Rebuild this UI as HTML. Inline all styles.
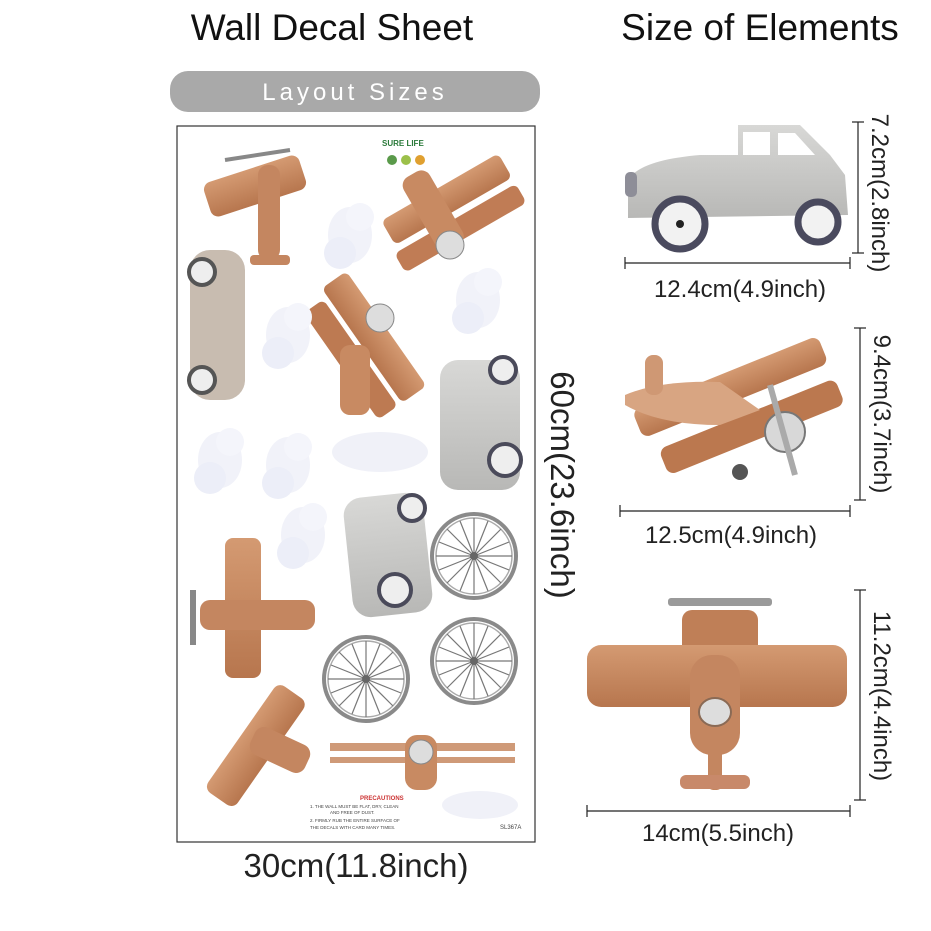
<!DOCTYPE html>
<html><head><meta charset="utf-8"><style>
html,body{margin:0;padding:0;background:#fff}
svg{display:block}
text{font-family:"Liberation Sans",sans-serif}
</style></head><body>
<svg width="931" height="931" viewBox="0 0 931 931" xmlns="http://www.w3.org/2000/svg">
<defs>
<linearGradient id="br" x1="0" y1="0" x2="0" y2="1"><stop offset="0" stop-color="#d49a72"/><stop offset="1" stop-color="#b7764e"/></linearGradient>
<linearGradient id="gr" x1="0" y1="0" x2="0" y2="1"><stop offset="0" stop-color="#d8d8d6"/><stop offset="1" stop-color="#b8b8b6"/></linearGradient>
<g id="cloud"><ellipse cx="0" cy="0" rx="22" ry="28" fill="#f1f2f9"/><ellipse cx="-10" cy="18" rx="16" ry="16" fill="#eceef8"/><ellipse cx="10" cy="-18" rx="14" ry="14" fill="#f4f5fb"/></g>
<g id="wheel"><circle r="42" fill="none" stroke="#8a8a8a" stroke-width="4"/><circle r="38" fill="none" stroke="#aaa" stroke-width="1.5"/>
<g stroke="#777" stroke-width="1.2"><line x1="-38" y1="0" x2="38" y2="0"/><line x1="0" y1="-38" x2="0" y2="38"/><line x1="-27" y1="-27" x2="27" y2="27"/><line x1="-27" y1="27" x2="27" y2="-27"/><line x1="-35" y1="-14" x2="35" y2="14"/><line x1="-35" y1="14" x2="35" y2="-14"/><line x1="-14" y1="-35" x2="14" y2="35"/><line x1="14" y1="-35" x2="-14" y2="35"/></g><circle r="4" fill="#666"/></g>
</defs>

<text x="332" y="40" font-size="37" text-anchor="middle" fill="#111">Wall Decal Sheet</text>
<text x="760" y="40" font-size="37" text-anchor="middle" fill="#111">Size of Elements</text>

<rect x="170" y="71" width="370" height="41" rx="18" fill="#a9a9a9"/>
<text x="355" y="100" font-size="24" text-anchor="middle" fill="#fff" letter-spacing="4">Layout Sizes</text>

<rect x="177" y="126" width="358" height="716" fill="#fff" stroke="#333" stroke-width="1.2"/>
<text x="382" y="146" font-size="8" fill="#2a7a3a" font-weight="bold">SURE LIFE</text>
<circle cx="392" cy="160" r="5" fill="#5a9a4a"/><circle cx="406" cy="160" r="5" fill="#9cc04a"/><circle cx="420" cy="160" r="5" fill="#e0a030"/>

<g>
<rect x="205" y="168" width="100" height="36" rx="8" fill="url(#br)" transform="rotate(-18 255 186)"/>
<rect x="258" y="165" width="22" height="95" rx="10" fill="#c48660"/>
<rect x="250" y="255" width="40" height="10" rx="4" fill="#c48660"/>
<line x1="225" y1="160" x2="290" y2="150" stroke="#888" stroke-width="4"/>
</g>
<g transform="rotate(-30 450 210)">
<rect x="385" y="185" width="135" height="28" rx="6" fill="url(#br)"/>
<rect x="380" y="220" width="140" height="22" rx="6" fill="#c07c55"/>
<rect x="420" y="160" width="30" height="85" rx="10" fill="#c88a62"/>
</g>
<circle cx="450" cy="245" r="14" fill="#ddd" stroke="#888"/>
<g transform="rotate(55 370 340)">
<rect x="300" y="320" width="140" height="30" rx="6" fill="url(#br)"/>
<rect x="310" y="355" width="130" height="24" rx="6" fill="#bd7a52"/>
</g>
<circle cx="380" cy="318" r="14" fill="#ddd" stroke="#888"/>
<rect x="340" y="345" width="30" height="70" rx="10" fill="#c88a62"/>
<rect x="190" y="250" width="55" height="150" rx="20" fill="#c8bcb0"/>
<circle cx="202" cy="272" r="13" fill="#eee" stroke="#555" stroke-width="4"/>
<circle cx="202" cy="380" r="13" fill="#eee" stroke="#555" stroke-width="4"/>
<use href="#cloud" x="350" y="235"/>
<use href="#cloud" x="288" y="335"/>
<use href="#cloud" x="478" y="300"/>
<use href="#cloud" x="220" y="460"/>
<use href="#cloud" x="288" y="465"/>
<use href="#cloud" x="303" y="535"/>
<ellipse cx="380" cy="452" rx="48" ry="20" fill="#f0f1f8"/>
<ellipse cx="480" cy="805" rx="38" ry="14" fill="#f0f1f8"/>
<rect x="440" y="360" width="80" height="130" rx="18" fill="url(#gr)"/>
<circle cx="503" cy="370" r="13" fill="#eee" stroke="#4a4a5a" stroke-width="4"/>
<circle cx="505" cy="460" r="16" fill="#eee" stroke="#4a4a5a" stroke-width="4"/>
<rect x="348" y="495" width="80" height="120" rx="18" fill="url(#gr)" transform="rotate(-6 388 555)"/>
<circle cx="412" cy="508" r="13" fill="#eee" stroke="#4a4a5a" stroke-width="4"/>
<circle cx="395" cy="590" r="16" fill="#eee" stroke="#4a4a5a" stroke-width="4"/>
<use href="#wheel" x="474" y="556"/>
<use href="#wheel" x="366" y="679"/>
<use href="#wheel" x="474" y="661"/>
<rect x="225" y="538" width="36" height="140" rx="8" fill="url(#br)"/>
<rect x="200" y="600" width="115" height="30" rx="10" fill="#c48660"/>
<rect x="190" y="590" width="6" height="55" fill="#888"/>
<g transform="rotate(-55 255 745)"><rect x="190" y="728" width="130" height="36" rx="8" fill="url(#br)"/></g>
<rect x="250" y="735" width="60" height="30" rx="10" fill="#c48660" transform="rotate(25 280 750)"/>
<rect x="330" y="743" width="185" height="8" fill="#cf9a78"/>
<rect x="330" y="757" width="185" height="6" fill="#cf9a78"/>
<rect x="405" y="735" width="32" height="55" rx="12" fill="#c88a62"/>
<circle cx="421" cy="752" r="12" fill="#ddd" stroke="#888"/>
<text x="360" y="800" font-size="6" fill="#c33" font-weight="bold">PRECAUTIONS</text>
<text x="310" y="808" font-size="4.5" fill="#444">1. THE WALL MUST BE FLAT, DRY, CLEAN</text>
<text x="330" y="814" font-size="4.5" fill="#444">AND FREE OF DUST.</text>
<text x="310" y="822" font-size="4.5" fill="#444">2. FIRMLY RUB THE ENTIRE SURFACE OF</text>
<text x="310" y="829" font-size="4.5" fill="#444">THE DECALS WITH CARD MANY TIMES.</text>
<text x="500" y="829" font-size="6" fill="#444">SL367A</text>

<text x="356" y="877" font-size="33" text-anchor="middle" fill="#222">30cm(11.8inch)</text>
<text transform="translate(551 485) rotate(90)" font-size="33" text-anchor="middle" fill="#222">60cm(23.6inch)</text>

<path d="M628 180 Q640 160 700 155 L738 155 L738 125 L800 125 L830 155 L845 175 L848 215 L628 218 Z" fill="url(#gr)"/>
<path d="M743 132 L770 132 L770 155 L743 155 Z M778 133 L795 133 L815 155 L778 155 Z" fill="#fff"/>
<rect x="625" y="172" width="12" height="25" rx="5" fill="#8e8e98"/>
<circle cx="680" cy="224" r="25" fill="#f2f2f2" stroke="#4a4a5e" stroke-width="7"/>
<circle cx="680" cy="224" r="4" fill="#222"/>
<circle cx="818" cy="222" r="20" fill="#f2f2f2" stroke="#4a4a5e" stroke-width="7"/>
<g stroke="#222" stroke-width="1.2" fill="none"><line x1="625" y1="263" x2="850" y2="263"/><line x1="625" y1="257" x2="625" y2="269"/><line x1="850" y1="257" x2="850" y2="269"/>
<line x1="858" y1="122" x2="858" y2="253"/><line x1="852" y1="122" x2="864" y2="122"/><line x1="852" y1="253" x2="864" y2="253"/></g>
<text x="740" y="297" font-size="24" text-anchor="middle" fill="#222">12.4cm(4.9inch)</text>
<text transform="translate(872 193) rotate(90)" font-size="24" text-anchor="middle" fill="#222">7.2cm(2.8inch)</text>

<g transform="rotate(-22 735 412)">
<rect x="640" y="372" width="200" height="30" rx="8" fill="url(#br)"/>
<rect x="650" y="418" width="190" height="28" rx="8" fill="#bb784f"/>
</g>
<path d="M625 395 Q660 380 720 382 L760 410 L720 425 Q660 425 625 405 Z" fill="#d8a582"/>
<rect x="645" y="355" width="18" height="40" rx="8" fill="#cf9874"/>
<circle cx="785" cy="432" r="20" fill="#d8d8d8" stroke="#777" stroke-width="2"/>
<line x1="770" y1="385" x2="795" y2="475" stroke="#aaa" stroke-width="6"/>
<circle cx="740" cy="472" r="8" fill="#555"/>
<g stroke="#222" stroke-width="1.2"><line x1="620" y1="511" x2="850" y2="511"/><line x1="620" y1="505" x2="620" y2="517"/><line x1="850" y1="505" x2="850" y2="517"/>
<line x1="860" y1="328" x2="860" y2="500"/><line x1="854" y1="328" x2="866" y2="328"/><line x1="854" y1="500" x2="866" y2="500"/></g>
<text x="731" y="543" font-size="24" text-anchor="middle" fill="#222">12.5cm(4.9inch)</text>
<text transform="translate(874 414) rotate(90)" font-size="24" text-anchor="middle" fill="#222">9.4cm(3.7inch)</text>

<rect x="668" y="598" width="104" height="8" rx="3" fill="#9a9a9a"/>
<rect x="682" y="610" width="76" height="48" rx="10" fill="#bf7f57"/>
<rect x="587" y="645" width="260" height="62" rx="14" fill="url(#br)"/>
<rect x="690" y="655" width="50" height="100" rx="22" fill="#c48660"/>
<ellipse cx="715" cy="712" rx="16" ry="14" fill="#ddd" stroke="#8a6a55" stroke-width="2"/>
<rect x="708" y="740" width="14" height="50" rx="5" fill="#c48660"/>
<rect x="680" y="775" width="70" height="14" rx="6" fill="#c8896a"/>
<g stroke="#222" stroke-width="1.2"><line x1="587" y1="811" x2="850" y2="811"/><line x1="587" y1="805" x2="587" y2="817"/><line x1="850" y1="805" x2="850" y2="817"/>
<line x1="860" y1="590" x2="860" y2="800"/><line x1="854" y1="590" x2="866" y2="590"/><line x1="854" y1="800" x2="866" y2="800"/></g>
<text x="718" y="841" font-size="24" text-anchor="middle" fill="#222">14cm(5.5inch)</text>
<text transform="translate(874 696) rotate(90)" font-size="24" text-anchor="middle" fill="#222">11.2cm(4.4inch)</text>
</svg>
</body></html>
